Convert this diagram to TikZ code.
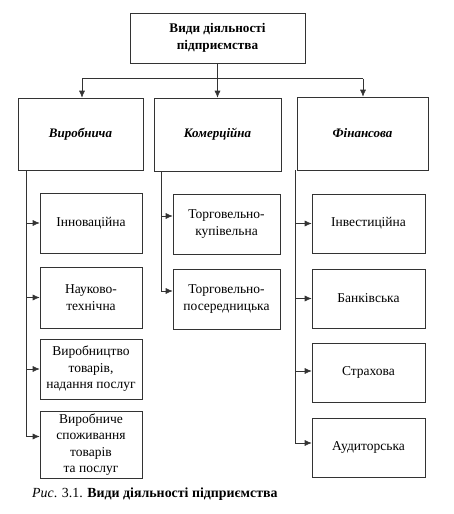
\documentclass[tikz,border=0pt]{standalone}
\usepackage{fontspec}
\setmainfont{Liberation Serif}
\usetikzlibrary{arrows.meta}
\begin{document}
\begin{tikzpicture}[x=1pt,y=-1pt,
  box/.style={draw=black!80,line width=0.6pt,align=center,inner sep=2pt,font=\fontsize{13.5}{16.5}\selectfont},
  line/.style={draw=black!80,line width=0.6pt},
  arr/.style={line,-{Latex[length=7pt,width=6pt]}}]
\useasboundingbox (0,0) rectangle (453,514);
% top
\node[box,minimum width=175pt,minimum height=50pt,font=\bfseries\fontsize{13.2}{16.5}\selectfont] (top) at (217.5,38) {Види діяльності\\підприємства};
% second level
\node[box,minimum width=125pt,minimum height=72pt,font=\bfseries\itshape\fontsize{13}{15}\selectfont] (V) at (80.5,134) {Виробнича};
\node[box,minimum width=127pt,minimum height=73pt,font=\bfseries\itshape\fontsize{13}{15}\selectfont] (K) at (217.5,134.5) {Комерційна};
\node[box,minimum width=131pt,minimum height=73pt,font=\bfseries\itshape\fontsize{13}{15}\selectfont] (F) at (362.5,133.5) {Фінансова};
% left column
\node[box,minimum width=102pt,minimum height=60pt] (inn) at (91,223) {Інноваційна};
\node[box,minimum width=102pt,minimum height=61pt] (nauk) at (91,297.5) {Науково-\\технічна};
\node[box,minimum width=102pt,minimum height=60pt] (vyr) at (91,369) {Виробництво\\товарів,\\надання послуг};
\node[box,minimum width=102pt,minimum height=67pt] (spo) at (91,444.5) {Виробниче\\споживання\\товарів\\та послуг};
% middle column
\node[box,minimum width=107pt,minimum height=60pt] (tk) at (226.5,224) {Торговельно-\\купівельна};
\node[box,minimum width=107pt,minimum height=60pt] (tp) at (226.5,299) {Торговельно-\\посередницька};
% right column
\node[box,minimum width=113pt,minimum height=59pt] (inv) at (368.5,223.5) {Інвестиційна};
\node[box,minimum width=113pt,minimum height=59pt] (bank) at (368.5,298.5) {Банківська};
\node[box,minimum width=113pt,minimum height=59pt] (str) at (368.5,372.5) {Страхова};
\node[box,minimum width=113pt,minimum height=59pt] (aud) at (368.5,447.5) {Аудиторська};
% caption
\node[anchor=west,inner sep=0pt,font=\fontsize{13.9}{16}\selectfont] (cap) at (32,494) {\textit{Рис}. 3.1. \textbf{Види діяльності підприємства}};
% bus
\coordinate (busL) at (82,78.5);
\coordinate (busR) at (363,78.5);
\draw[line] (top.south) -- (top.south |- busL);
\draw[line] (busL) -- (busR);
\draw[arr] (busL) -- (busL |- V.north);
\draw[arr] (K.north |- busL) -- (K.north);
\draw[arr] (busR) -- (busR |- F.north);
% entry points
\coordinate (spoE) at ([yshift=8pt]spo.west);
\coordinate (tkE) at ([yshift=8pt]tk.west);
\coordinate (tpE) at ([yshift=8pt]tp.west);
\coordinate (audE) at ([yshift=4.5pt]aud.west);
\coordinate (strE) at ([yshift=1.5pt]str.west);
% left spine
\coordinate (sL) at (26,170);
\draw[arr] (sL) |- (spoE);
\draw[arr] (sL |- inn.west) -- (inn.west);
\draw[arr] (sL |- nauk.west) -- (nauk.west);
\draw[arr] (sL |- vyr.west) -- (vyr.west);
% middle spine
\coordinate (sM) at (161,171);
\draw[arr] (sM) |- (tpE);
\draw[arr] (sM |- tkE) -- (tkE);
% right spine
\coordinate (sR) at (295,170);
\draw[arr] (sR) |- (audE);
\draw[arr] (sR |- inv.west) -- (inv.west);
\draw[arr] (sR |- bank.west) -- (bank.west);
\draw[arr] (sR |- strE) -- (strE);
\end{tikzpicture}
\end{document}
